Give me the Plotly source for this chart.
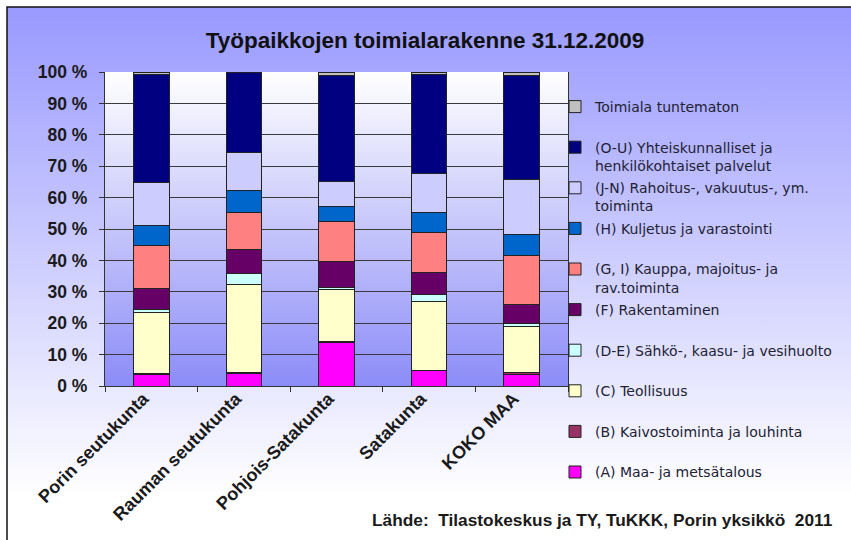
import base64
import plotly.graph_objects as go

# ---------------- data ----------------
categories = ["Porin seutukunta", "Rauman seutukunta", "Pohjois-Satakunta", "Satakunta", "KOKO MAA"]

series_names = [
    "(A) Maa- ja metsätalous",
    "(B) Kaivostoiminta ja louhinta",
    "(C) Teollisuus",
    "(D-E) Sähkö-, kaasu- ja vesihuolto",
    "(F) Rakentaminen",
    "(G, I) Kauppa, majoitus- ja<br>rav.toiminta",
    "(H) Kuljetus ja varastointi",
    "(J-N) Rahoitus-, vakuutus-, ym.<br>toiminta",
    "(O-U) Yhteiskunnalliset ja<br>henkilökohtaiset palvelut",
    "Toimiala tuntematon",
]

A_maa = [3.6, 4.1, 13.7, 4.8, 3.7]
B_kaivos = [0.3, 0.2, 0.5, 0.2, 0.5]
C_teollisuus = [19.5, 28.0, 16.5, 21.9, 14.8]
DE_sahko = [1.1, 3.5, 0.8, 2.2, 0.9]
F_rakentaminen = [6.5, 7.7, 8.2, 7.0, 6.1]
GI_kauppa = [13.8, 11.9, 12.6, 12.8, 15.7]
H_kuljetus = [6.4, 7.0, 5.0, 6.5, 6.5]
JN_rahoitus = [13.6, 11.9, 7.8, 12.4, 17.6]
OU_palvelut = [34.4, 25.4, 33.8, 31.5, 33.2]
tuntematon = [0.8, 0.3, 1.1, 0.7, 1.0]

series_values = [A_maa, B_kaivos, C_teollisuus, DE_sahko, F_rakentaminen,
                 GI_kauppa, H_kuljetus, JN_rahoitus, OU_palvelut, tuntematon]

y_tick_values = [0, 10, 20, 30, 40, 50, 60, 70, 80, 90, 100]
y_tick_labels = ["0 %", "10 %", "20 %", "30 %", "40 %", "50 %", "60 %", "70 %", "80 %", "90 %", "100 %"]

title_text = "Työpaikkojen toimialarakenne 31.12.2009"
source_text = "Lähde:  Tilastokeskus ja TY, TuKKK, Porin yksikkö  2011"

# ---------------- style ----------------
colors = ["#FF00FF", "#993366", "#FFFFCC", "#CCFFFF", "#660066",
          "#FF8080", "#0066CC", "#CCCCFF", "#000080", "#C0C0C0"]

W, H = 851, 540
ML, MR, MT, MB = 105, 283, 72, 154
PW, PH = W - ML - MR, H - MT - MB
FONT = "Liberation Sans, Arial, sans-serif"
LEG_FONT = "DejaVu Sans, Liberation Sans, sans-serif"
LEG_SIZE = 14.0


def px_x(x):
    return (x - ML) / PW


def px_y(y):
    return (H - MB - y) / PH


def grad_svg(c0, c1, stop1):
    svg = (
        '<svg xmlns="http://www.w3.org/2000/svg" width="100" height="100" preserveAspectRatio="none">'
        '<defs><linearGradient id="g" x1="0" y1="0" x2="0" y2="1">'
        f'<stop offset="0" stop-color="{c0}"/><stop offset="{stop1}" stop-color="{c1}"/>'
        '</linearGradient></defs><rect width="100" height="100" fill="url(#g)"/></svg>'
    )
    return "data:image/svg+xml;base64," + base64.b64encode(svg.encode()).decode()


fig = go.Figure()
n = len(series_names)
for i, (name, vals) in enumerate(zip(series_names, series_values)):
    label = name if "<br>" in name else name + "<br>\u00a0"
    fig.add_trace(go.Bar(
        x=categories, y=vals, name=label,
        marker=dict(color=colors[i], line=dict(color="#222222", width=1)),
        legendgroup=f"g{i}", legendrank=100 + (n - i),
    ))

fig.update_layout(
    width=W, height=H,
    margin=dict(l=ML, r=MR, t=MT, b=MB, pad=0, autoexpand=False),
    barmode="stack", bargap=0.615,
    paper_bgcolor="white", plot_bgcolor="rgba(0,0,0,0)",
    font=dict(family=FONT, color="#1a1a1a"),
    title=dict(text=f"<b>{title_text}</b>", x=425 / W, xref="container", xanchor="center",
               y=1 - 40 / H, yref="container", yanchor="middle",
               font=dict(size=22.5, family=FONT, color="#111111")),
    legend=dict(x=px_x(555), y=1 - 91 / H, yref="container", xanchor="left", yanchor="top",
                traceorder="grouped", tracegroupgap=40.6 - (2 * LEG_SIZE * 1.3 + 3), valign="top",
                bgcolor="rgba(0,0,0,0)", borderwidth=0, itemwidth=30, maxheight=1.0,
                font=dict(size=LEG_SIZE, family=LEG_FONT, color="#222233")),
    showlegend=True,
)

fig.update_yaxes(range=[0, 100], tickvals=y_tick_values, ticktext=[f"<b>{t}</b>" for t in y_tick_labels],
                 showgrid=True, gridcolor="#3a3a3a", gridwidth=1.2,
                 showline=True, linecolor="#333333", linewidth=1.2, mirror=True,
                 ticks="outside", ticklen=5, tickcolor="#333333", ticklabelstandoff=8,
                 tickfont=dict(size=17.5, family=FONT, color="#1a1a1a"), zeroline=False)
fig.update_xaxes(tickangle=-45, tickson="boundaries", ticks="outside", ticklen=5, tickcolor="#333333",
                 showline=True, linecolor="#333333", linewidth=1.2,
                 ticklabelshift=-8, ticklabelstandoff=-6,
                 tickvals=categories, ticktext=[f"<b>{c}</b>" for c in categories],
                 tickfont=dict(size=18, family=FONT, color="#1a1a1a"))

fig.add_layout_image(dict(source=grad_svg("#9999FF", "#FFFFFF", 0.92), xref="paper", yref="paper",
                          x=px_x(7), y=px_y(7), sizex=(W - 7) / PW, sizey=(H - 7) / PH,
                          xanchor="left", yanchor="top", sizing="stretch", layer="below"))
fig.add_layout_image(dict(source=grad_svg("#FFFFFF", "#8C8CF8", 1), xref="paper", yref="paper",
                          x=0, y=1, sizex=1, sizey=1,
                          xanchor="left", yanchor="top", sizing="stretch", layer="below"))

fig.add_shape(type="rect", xref="paper", yref="paper", x0=px_x(7), y0=px_y(7), x1=px_x(W + 5), y1=px_y(H + 5),
              line=dict(color="#111111", width=1.5), fillcolor="rgba(0,0,0,0)", layer="above")

fig.add_annotation(text=f"<b>{source_text}</b>", xref="paper", yref="paper", x=px_x(370), y=px_y(520),
                   xanchor="left", yanchor="middle", showarrow=False,
                   font=dict(size=17.3, family=FONT, color="#1a1a1a"))

fig.write_html("out.html", config={"displayModeBar": False},
               post_script="document.body.style.margin='0';document.body.style.overflow='hidden';")
